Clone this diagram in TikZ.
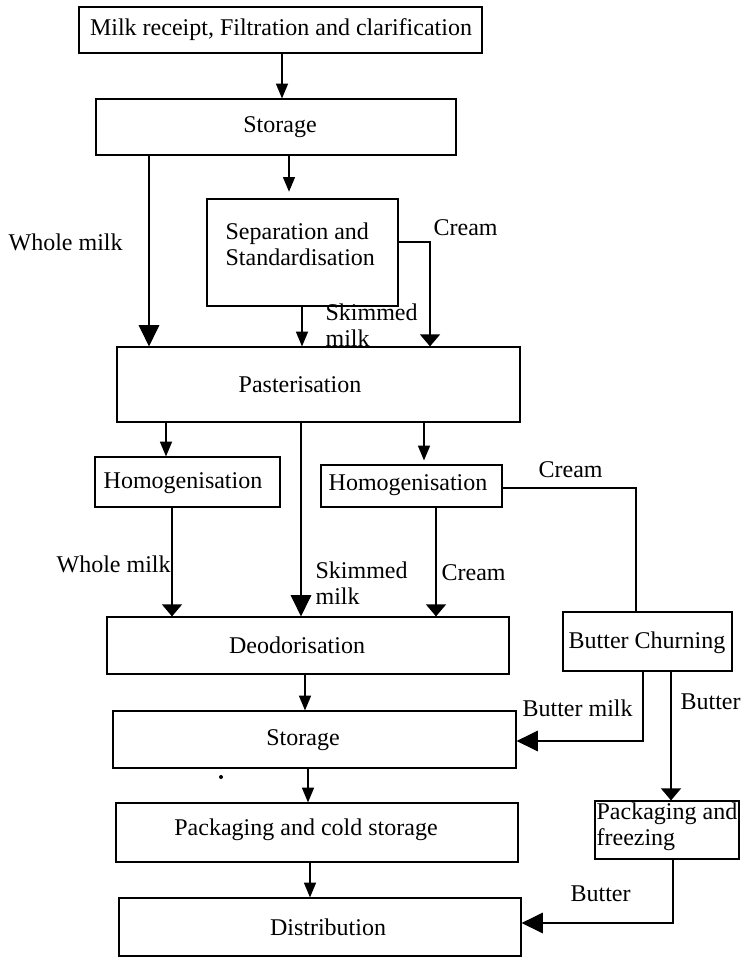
\documentclass[tikz,border=0pt]{standalone}
\usepackage{fontspec}
\setmainfont{Liberation Serif}
\usetikzlibrary{arrows.meta,fit}

\begin{document}
\begin{tikzpicture}[x=0.75pt,y=-0.75pt,
  line width=0.9pt,
  box/.style={draw, inner sep=0pt, fit={#1}},
  txt/.style={inner sep=0pt, font=\fontsize{18}{19.5}\selectfont},
  lbl/.style={inner sep=0pt, anchor=west, align=left, font=\fontsize{18}{19.5}\selectfont},
  tsmall/.style={-{Triangle[length=11pt,width=9pt]}},
  tbig/.style={-{Triangle[length=16pt,width=15.5pt]}},
  tflat/.style={-{Triangle[length=9pt,width=15pt]}},
]
\useasboundingbox (0,0) rectangle (741,959);

% process boxes
\node[box={(79,7) (482,53)}]    (b1)   {};
\node[box={(96,99) (456,155)}]  (st1)  {};
\node[box={(207,199) (398,306)}] (sep) {};
\node[box={(117,347) (520,422)}] (pas) {};
\node[box={(95,457) (280,507)}]  (homL) {};
\node[box={(321,465) (502,507)}] (homR) {};
\node[box={(107,617) (509,674)}] (deod) {};
\node[box={(563,612) (732,671)}] (bc)   {};
\node[box={(113,711) (516,768)}] (st2)  {};
\node[box={(116,803) (518,862)}] (pack) {};
\node[box={(595,801) (739,859)}] (pf)   {};
\node[box={(119,898) (521,956)}] (dist) {};

% box texts
\node[txt] (t-b1)   at (281,30)  {Milk receipt, Filtration and clarification};
\node[txt] (t-st1)  at (280,127) {Storage};
\node[lbl] (t-sep)  at (225,244) {Separation and\\Standardisation};
\node[txt] (t-pas)  at (300,385) {Pasterisation};
\node[txt] (t-homL) at (183,483) {Homogenisation};
\node[txt] (t-homR) at (408,485) {Homogenisation};
\node[txt] (t-deod) at (297,645) {Deodorisation};
\node[txt] (t-bc)   at (647,643) {Butter Churning};
\node[txt] (t-st2)  at (303,740) {Storage};
\node[txt] (t-pack) at (306,830) {Packaging and cold storage};
\node[lbl] (t-pf)   at (596,827) {Packaging and\\freezing};
\node[txt] (t-dist) at (328,927) {Distribution};

% flow labels
\node[lbl] (l-wm1) at (8,242)   {Whole milk};
\node[lbl] (l-cr1) at (433,228) {Cream};
\node[lbl] (l-sk1) at (325,325) {Skimmed\\milk};
\node[lbl] (l-wm2) at (56,564)  {Whole milk};
\node[lbl] (l-sk2) at (315,583) {Skimmed\\milk};
\node[lbl] (l-cr2) at (441,573) {Cream};
\node[lbl] (l-cr3) at (538,470) {Cream};
\node[lbl] (l-bm)  at (522,708) {Butter milk};
\node[lbl] (l-bu1) at (680,702) {Butter};
\node[lbl] (l-bu2) at (570,894) {Butter};

% connectors
\draw[tsmall] (b1.south -| 282,0) -- (st1.north -| 282,0);
\draw[tbig]   (st1.south -| 149,0) -- (pas.north -| 149,0);
\draw[tsmall, shorten >=5pt] (st1.south -| 289,0) -- (sep.north -| 289,0);
\draw[tsmall] (sep.south -| 302,0) -- (pas.north -| 302,0);
\draw[tflat]  (sep.east |- 0,242) -| (pas.north -| 430,0);

\draw[tsmall] (pas.south -| 166,0) -- (homL.north -| 166,0);
\draw[tbig]   (pas.south -| 301,0) -- (deod.north -| 301,0);
\draw[tsmall, shorten >=3pt] (pas.south -| 424,0) -- (homR.north -| 424,0);

\draw[tflat]  (homL.south -| 172,0) -- (deod.north -| 172,0);
\draw[tflat]  (homR.south -| 436,0) -- (deod.north -| 436,0);
\draw         (homR.east |- 0,488) -| (bc.north -| 636,0);

\draw[tsmall] (deod.south -| 305,0) -- (st2.north -| 305,0);
\draw[tsmall] (st2.south -| 308,0) -- (pack.north -| 308,0);
\draw[tsmall] (pack.south -| 310,0) -- (dist.north -| 310,0);

\draw[tbig]   (bc.south -| 643,0) |- (st2.east |- 0,741);
\draw[tflat]  (bc.south -| 671,0) -- (pf.north -| 671,0);
\draw[tbig]   (pf.south -| 673,0) |- (dist.east |- 0,923);

% speck below the lower storage box
\fill (221,777) circle (2);
\end{tikzpicture}
\end{document}
